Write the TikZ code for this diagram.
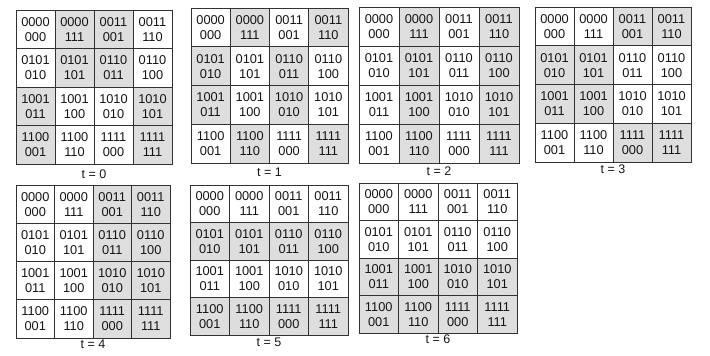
\documentclass[tikz,border=0pt]{standalone}
\usepackage{fontspec}
\setmainfont{Liberation Sans}
\definecolor{cellgrey}{RGB}{222,222,222}
\definecolor{linegrey}{RGB}{50,50,50}
\definecolor{textgrey}{RGB}{20,20,20}
\tikzset{
  cellshade/.style={fill=cellgrey},
  cellbox/.style={draw=linegrey, line width=1pt, inner sep=0pt, align=center,
    text=textgrey, font=\fontsize{12.8}{15}\selectfont},
  steplabel/.style={inner sep=0pt, text=textgrey, font=\fontsize{12.5}{14}\selectfont}
}
\newcommand\mygrid[8]{%
  \pgfmathsetmacro\cw{(#4-#2)/4}%
  \pgfmathsetmacro\ch{(#5-#3)/4}%
  \foreach \ri/\ci in {#6}{%
    \fill[cellshade] ({#2+\ci*\cw},{#3+\ri*\ch}) rectangle ++(\cw,\ch);}%
  \foreach \ri/\ci/\ta/\tb in {0/0/0000/000,0/1/0000/111,0/2/0011/001,0/3/0011/110,
      1/0/0101/010,1/1/0101/101,1/2/0110/011,1/3/0110/100,
      2/0/1001/011,2/1/1001/100,2/2/1010/010,2/3/1010/101,
      3/0/1100/001,3/1/1100/110,3/2/1111/000,3/3/1111/111}{%
    \node[cellbox, minimum width=\cw pt, minimum height=\ch pt]
      (#1-\ri-\ci) at ({#2+(\ci+0.5)*\cw},{#3+(\ri+0.5)*\ch}) {\ta\\\tb};}%
  \node[steplabel] (#1-label) at ({(#2+#4)/2},#8) {#7};%
}
\begin{document}
\begin{tikzpicture}[x=1pt,y=-1pt]
\useasboundingbox (0,0) rectangle (710,356);
\mygrid{g0}{16}{10}{172}{164}{0/1,0/2,1/1,1/2,2/0,2/3,3/0,3/3}{t = 0}{174}
\mygrid{g1}{191}{8}{348}{163}{0/1,0/3,1/0,1/2,2/0,2/2,3/1,3/3}{t = 1}{172}
\mygrid{g2}{359}{7}{519}{163}{0/1,0/3,1/1,1/3,2/1,2/3,3/1,3/3}{t = 2}{171}
\mygrid{g3}{535}{7}{691}{162}{0/2,0/3,1/0,1/1,2/0,2/1,3/2,3/3}{t = 3}{169}
\mygrid{g4}{16}{185}{170}{338}{0/2,0/3,1/2,1/3,2/2,2/3,3/2,3/3}{t = 4}{344.5}
\mygrid{g5}{190}{185}{348}{335}{1/0,1/1,1/2,1/3,3/0,3/1,3/2,3/3}{t = 5}{342}
\mygrid{g6}{359}{183}{517}{333}{2/0,2/1,2/2,2/3,3/0,3/1,3/2,3/3}{t = 6}{339}
\end{tikzpicture}
\end{document}
